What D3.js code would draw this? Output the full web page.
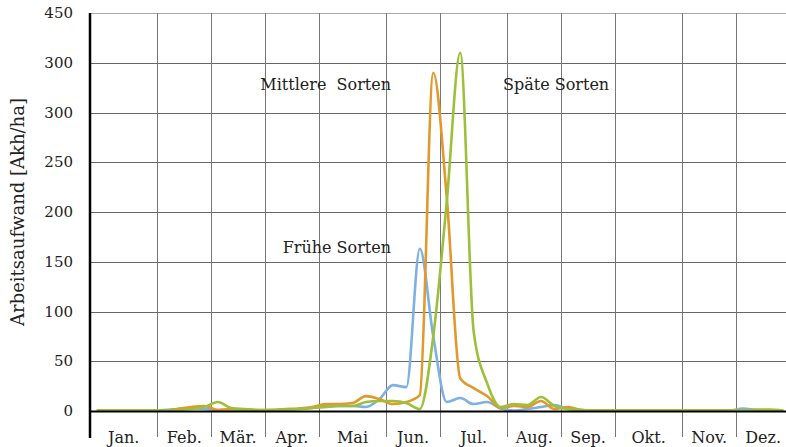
<!DOCTYPE html>
<html>
<head>
<meta charset="utf-8">
<script src="https://cdn.jsdelivr.net/npm/d3@7"></script>
<style>
  html, body { margin: 0; padding: 0; background: #fff; }
  svg { display: block; font-family: 'DejaVu Serif', serif; }
</style>
</head>
<body>
<svg id="chart" width="786" height="447"></svg>
<script>
const months = ['Jan.', 'Feb.', 'Mär.', 'Apr.', 'Mai', 'Jun.', 'Jul.', 'Aug.', 'Sep.', 'Okt.', 'Nov.', 'Dez.'];
const monthWeeks = [5, 4, 4, 4, 5, 4, 5, 4, 4, 5, 4, 4];

const yTicks = [0, 50, 100, 150, 200, 250, 300, 350, 400];
const yTickLabels = ['0', '50', '100', '150', '200', '250', '300', '300', '450'];

// Kalenderwochen 1..52
const weeks = Array.from({ length: 52 }, (_, i) => i + 1);

const fruehe = [
  0.5, 0.5, 0.3, 0.3, 0.5,
  1, 2, 3, 2, 1,
  1.5, 1, 0.5, 1, 1.5,
  2, 3, 5, 5, 5,
  4, 12, 26, 24, 163,
  75, 9, 13, 7, 9,
  2.5, 0.5, 2, 4, 6,
  2, 1, 0.5, 0.5, 0.5,
  0.5, 0.5, 0.5, 0.5, 0.5,
  0.5, 0.5, 0.5, 2.5, 1,
  0.5, 0.5,
];

const mittlere = [
  0.3, 0.3, 0.3, 0.3, 0.3,
  0.5, 2, 4, 5, 1,
  2, 1.5, 1, 1, 2,
  2.5, 4, 7, 7, 8,
  15, 12, 7, 9, 16,
  340, 215, 33, 23, 15,
  3, 5, 4, 10, 2,
  4, 1, 0.5, 0.5, 0.5,
  0.5, 0.5, 0.5, 0.5, 0.5,
  0.5, 0.5, 0.5, 0.5, 0.5,
  0.5, 0.5,
];

const spaete = [
  0.5, 0.5, 0.5, 0.5, 0.5,
  0.5, 1, 2, 4, 9,
  3, 2, 1, 1, 1.5,
  2, 3, 4, 5, 5,
  9, 10, 10, 8, 2,
  75, 210, 360, 80, 28,
  4, 7, 6, 14, 5,
  2, 1, 0.5, 0.5, 0.5,
  0.5, 0.5, 0.5, 0.5, 0.5,
  0.5, 0.5, 0.5, 0.5, 1.5,
  1.5, 0.5,
];

const seriesNames = ['Frühe Sorten', 'Mittlere  Sorten', 'Späte Sorten'];
const seriesColors = ['#7eb0e2', '#e2982c', '#9cc03a'];

const svg = d3.select('#chart');
const width = 786;
const height = 447;
const margin = { top: 13, right: -4, bottom: 36, left: 90 };

const x = d3
  .scaleLinear()
  .domain([0, 52])
  .range([margin.left, width - margin.right]);

const y = d3
  .scaleLinear()
  .domain([0, 400])
  .range([height - margin.bottom, margin.top]);

// month boundaries in weeks
const monthStarts = monthWeeks.reduce((acc, w, i) => {
  acc.push(i === 0 ? 0 : acc[i - 1] + monthWeeks[i - 1]);
  return acc;
}, []);

// horizontal grid
svg
  .append('g')
  .selectAll('line')
  .data(yTicks.slice(1))
  .enter()
  .append('line')
  .attr('x1', margin.left)
  .attr('x2', width)
  .attr('y1', (d) => Math.round(y(d)) + 0.5)
  .attr('y2', (d) => Math.round(y(d)) + 0.5)
  .attr('stroke', (d) => (d === 400 ? '#a8a8a8' : '#666'))
  .attr('stroke-width', 1);

// vertical month separators (reach below the axis)
svg
  .append('g')
  .selectAll('line')
  .data(monthStarts.slice(1))
  .enter()
  .append('line')
  .attr('x1', (d) => Math.round(x(d)) + 0.5)
  .attr('x2', (d) => Math.round(x(d)) + 0.5)
  .attr('y1', y(400))
  .attr('y2', 437)
  .attr('stroke', '#777')
  .attr('stroke-width', 1);

// y labels
svg
  .append('g')
  .selectAll('text')
  .data(yTicks)
  .enter()
  .append('text')
  .attr('x', 73)
  .attr('y', (d) => y(d) + 5)
  .attr('text-anchor', 'end')
  .attr('font-size', 15)
  .attr('fill', '#222')
  .text((d, i) => yTickLabels[i]);

// y title
svg
  .append('text')
  .attr('transform', `translate(24,${y(200)}) rotate(-90)`)
  .attr('text-anchor', 'middle')
  .attr('font-size', 18)
  .attr('fill', '#222')
  .text('Arbeitsaufwand [Akh/ha]');

// month labels
svg
  .append('g')
  .selectAll('text')
  .data(months)
  .enter()
  .append('text')
  .attr('x', (d, i) => x(monthStarts[i] + monthWeeks[i] / 2))
  .attr('y', 443)
  .attr('text-anchor', 'middle')
  .attr('font-size', 16)
  .attr('fill', '#222')
  .text((d) => d);

// lines
const line = d3
  .line()
  .x((d, i) => x(weeks[i] - 0.5))
  .y((d) => y(d))
  .curve(d3.curveMonotoneX);

[fruehe, mittlere, spaete].forEach((data, k) => {
  svg
    .append('path')
    .datum(data)
    .attr('fill', 'none')
    .attr('stroke', seriesColors[k])
    .attr('stroke-width', 2.6)
    .attr('stroke-linejoin', 'round')
    .attr('d', line);
});

// axes lines
svg
  .append('line')
  .attr('x1', margin.left)
  .attr('x2', width)
  .attr('y1', y(0) + 0.5)
  .attr('y2', y(0) + 0.5)
  .attr('stroke', '#000')
  .attr('stroke-width', 2);

svg
  .append('line')
  .attr('x1', margin.left)
  .attr('x2', margin.left)
  .attr('y1', y(400))
  .attr('y2', 438)
  .attr('stroke', '#000')
  .attr('stroke-width', 2.5);

// series labels
svg
  .append('text')
  .attr('x', 391)
  .attr('y', 90)
  .attr('text-anchor', 'end')
  .attr('font-size', 16)
  .attr('fill', '#222')
  .style('white-space', 'pre')
  .text(seriesNames[1]);

svg
  .append('text')
  .attr('x', 503)
  .attr('y', 90)
  .attr('font-size', 16)
  .attr('fill', '#222')
  .text(seriesNames[2]);

svg
  .append('text')
  .attr('x', 391)
  .attr('y', 253)
  .attr('text-anchor', 'end')
  .attr('font-size', 16)
  .attr('fill', '#222')
  .text(seriesNames[0]);
</script>
</body>
</html>
